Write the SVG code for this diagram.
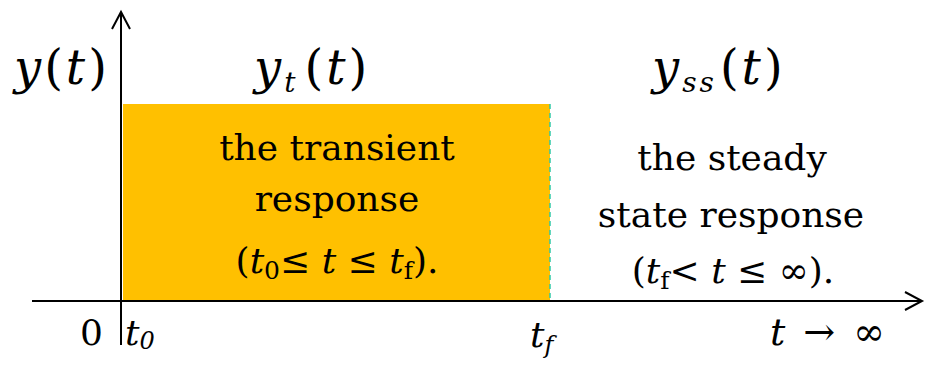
<svg xmlns="http://www.w3.org/2000/svg" width="925" height="367" viewBox="0 0 925 367">
<style>
text{font-family:'DejaVu Serif','Liberation Serif',serif;fill:#000}
.lbl{font-size:36px;text-anchor:middle}
.big{font-size:48px;letter-spacing:3px}
.ax{stroke:#000;stroke-width:2;fill:none}
.i{font-style:italic}
</style>
<rect width="925" height="367" fill="#fff"/>
<g id="transient">
<rect x="123" y="104" width="427" height="198" fill="#FFC000"/>
<line x1="550" y1="104" x2="550" y2="302" stroke="#2fc9a8" stroke-width="1.5" stroke-dasharray="5,4"/>
<text class="lbl" x="337" y="160">the transient</text>
<text class="lbl" x="337" y="211">response</text>
<text class="lbl" x="337" y="273">(<tspan class="i">t</tspan><tspan font-size="25" dy="6">0</tspan><tspan dy="-6">≤ </tspan><tspan class="i">t</tspan> ≤ <tspan class="i">t</tspan><tspan font-size="25" dy="6">f</tspan><tspan dy="-6">).</tspan></text>
</g>
<g id="steady">
<text class="lbl" x="732" y="170">the steady</text>
<text class="lbl" x="731" y="227">state response</text>
<text class="lbl" x="733" y="283">(<tspan class="i">t</tspan><tspan font-size="25" dy="6">f</tspan><tspan dy="-6">&lt; </tspan><tspan class="i">t</tspan> ≤ ∞).</text>
</g>
<g id="axes">
<line class="ax" x1="121" y1="12" x2="121" y2="345"/>
<polyline class="ax" points="112,29 121,12 130,29"/>
<line class="ax" x1="32" y1="301" x2="921" y2="301"/>
<polyline class="ax" points="905,292 922,301 905,310"/>
</g>
<g id="labels">
<text class="big" x="14" y="84"><tspan class="i">y</tspan>(<tspan class="i">t</tspan>)</text>
<text class="big" x="254" y="84"><tspan class="i">y</tspan><tspan class="i" font-size="28" dy="8">t</tspan><tspan dy="-8" dx="6">(</tspan><tspan class="i">t</tspan>)</text>
<text class="big" x="652" y="84"><tspan class="i">y</tspan><tspan class="i" font-size="28" dy="8">ss</tspan><tspan dy="-8" dx="3">(</tspan><tspan class="i">t</tspan>)</text>
<text x="80" y="345" font-size="36">0</text>
<text x="125" y="345" font-size="36" class="i">t<tspan font-size="24" dy="4">0</tspan></text>
<text x="530" y="347" font-size="36" class="i">t<tspan font-size="24" dy="6">f</tspan></text>
<text x="770" y="345" font-size="38" word-spacing="6"><tspan class="i">t</tspan> → ∞</text>
</g>
</svg>
